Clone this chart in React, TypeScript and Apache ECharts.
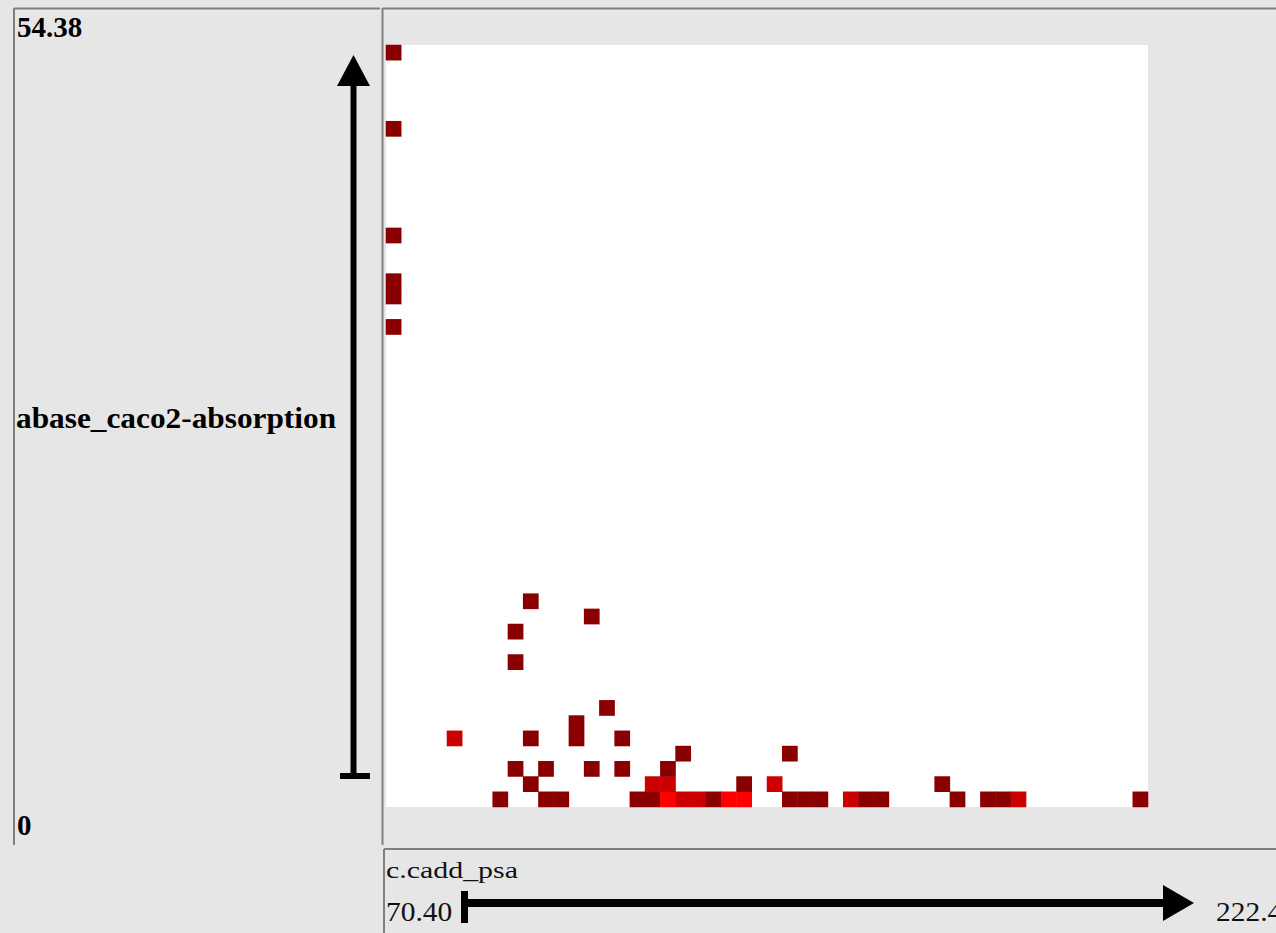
import React, { useEffect, useRef } from "react";
import * as echarts from "echarts";

// ---- data ----
const X_NAME = "c.cadd_psa";
const Y_NAME = "abase_caco2-absorption";
const X_MIN_LABEL = "70.40";
const X_MAX_LABEL = "222.40";
const Y_MAX_LABEL = "54.38";
const Y_MIN_LABEL = "0";
const X_MIN = 70.4;
const X_MAX = 222.4;
const Y_MIN = 0;
const Y_MAX = 54.38;
const BIN_COUNT = 50;

// bin indices (column along x, row along y) and counts per occupied cell
const cellX = [0, 0, 0, 0, 0, 0, 4, 7, 8, 8, 8, 9, 9, 9, 10, 10, 11, 12, 12, 13, 13, 14, 15, 15, 16, 17, 17, 18, 18, 18, 19, 19, 20, 21, 22, 23, 23, 25, 26, 26, 27, 28, 30, 31, 32, 36, 37, 39, 40, 41, 49];
const cellY = [49, 44, 37, 34, 33, 31, 4, 0, 11, 9, 2, 13, 4, 1, 2, 0, 0, 5, 4, 12, 2, 6, 4, 2, 0, 0, 1, 0, 1, 2, 0, 3, 0, 0, 0, 0, 1, 1, 0, 3, 0, 0, 0, 0, 0, 1, 0, 0, 0, 0, 0];
const cellCount = [1, 1, 1, 1, 1, 1, 2, 1, 1, 1, 1, 1, 1, 1, 1, 1, 1, 1, 1, 1, 1, 1, 1, 1, 1, 1, 2, 3, 2, 1, 2, 1, 2, 1, 3, 3, 1, 2, 1, 1, 1, 1, 2, 1, 1, 1, 1, 1, 1, 2, 1];

const countColors = ["#8a0000", "#cc0000", "#ff0000"];

export default function App() {
  const ref = useRef<HTMLDivElement>(null);

  useEffect(() => {
    document.body.style.margin = "0";
    if (!ref.current) return;
    const chart = echarts.init(ref.current, undefined, { renderer: "svg" });

    const xStep = (X_MAX - X_MIN) / BIN_COUNT;
    const yStep = (Y_MAX - Y_MIN) / BIN_COUNT;
    const xCats = Array.from({ length: BIN_COUNT }, (_, i) => (X_MIN + i * xStep).toFixed(2));
    const yCats = Array.from({ length: BIN_COUNT }, (_, i) => (Y_MIN + i * yStep).toFixed(2));
    const data = cellX.map((cx, i) => [cx, cellY[i], cellCount[i]]);

    const lineStyle = { stroke: "#808080", lineWidth: 2 };
    const serif = "'Liberation Serif', 'Times New Roman', serif";

    chart.setOption({
      animation: false,
      backgroundColor: "#e6e6e6",
      grid: {
        left: 386,
        top: 45,
        width: 762,
        height: 762,
        show: true,
        backgroundColor: "#ffffff",
        borderWidth: 0,
      },
      xAxis: { type: "category", data: xCats, show: false },
      yAxis: { type: "category", data: yCats, show: false },
      visualMap: {
        type: "piecewise",
        show: false,
        dimension: 2,
        pieces: [
          { value: 1, color: countColors[0] },
          { value: 2, color: countColors[1] },
          { gte: 3, color: countColors[2] },
        ],
      },
      series: [
        {
          type: "heatmap",
          data,
          emphasis: { disabled: true },
          itemStyle: { borderWidth: 0 },
        },
      ],
      graphic: [
        // panel borders
        { type: "line", shape: { x1: 14, y1: 8.5, x2: 380, y2: 8.5 }, style: lineStyle },
        { type: "line", shape: { x1: 14, y1: 8, x2: 14, y2: 845 }, style: lineStyle },
        { type: "line", shape: { x1: 382.5, y1: 8.5, x2: 1276, y2: 8.5 }, style: lineStyle },
        { type: "line", shape: { x1: 382.5, y1: 8, x2: 382.5, y2: 845 }, style: lineStyle },
        { type: "line", shape: { x1: 384, y1: 849, x2: 1276, y2: 849 }, style: lineStyle },
        { type: "line", shape: { x1: 384, y1: 849, x2: 384, y2: 933 }, style: lineStyle },
        // vertical arrow
        { type: "rect", shape: { x: 350.5, y: 80, width: 6, height: 697 }, style: { fill: "#000" } },
        { type: "rect", shape: { x: 340, y: 773, width: 30, height: 6 }, style: { fill: "#000" } },
        { type: "polygon", shape: { points: [[353.5, 55], [337, 86], [370, 86]] }, style: { fill: "#000" } },
        // horizontal arrow
        { type: "rect", shape: { x: 461, y: 891, width: 7, height: 32 }, style: { fill: "#000" } },
        { type: "rect", shape: { x: 461, y: 899, width: 706, height: 8 }, style: { fill: "#000" } },
        { type: "polygon", shape: { points: [[1163, 885], [1194, 903], [1163, 921]] }, style: { fill: "#000" } },
        // texts
        {
          type: "text", x: 17, y: 27,
          style: { text: Y_MAX_LABEL, fontFamily: serif, fontSize: 29, fontWeight: "bold", fill: "#000", verticalAlign: "middle", align: "left" },
        },
        {
          type: "text", x: 17, y: 825,
          style: { text: Y_MIN_LABEL, fontFamily: serif, fontSize: 29, fontWeight: "bold", fill: "#000", verticalAlign: "middle", align: "left" },
        },
        {
          type: "text", x: 16, y: 418, scaleX: 1.08,
          style: { text: Y_NAME, fontFamily: serif, fontSize: 29, fontWeight: "bold", fill: "#000", verticalAlign: "middle", align: "left" },
        },
        {
          type: "text", x: 386, y: 870, scaleX: 1.3,
          style: { text: X_NAME, fontFamily: serif, fontSize: 23, fill: "#111", verticalAlign: "middle", align: "left" },
        },
        {
          type: "text", x: 386, y: 912, scaleX: 1.09,
          style: { text: X_MIN_LABEL, fontFamily: serif, fontSize: 27, fill: "#111", verticalAlign: "middle", align: "left" },
        },
        {
          type: "text", x: 1216, y: 912, scaleX: 1.09,
          style: { text: X_MAX_LABEL, fontFamily: serif, fontSize: 27, fill: "#111", verticalAlign: "middle", align: "left" },
        },
      ],
    });

    return () => chart.dispose();
  }, []);

  return <div ref={ref} style={{ width: 1276, height: 933 }} />;
}
